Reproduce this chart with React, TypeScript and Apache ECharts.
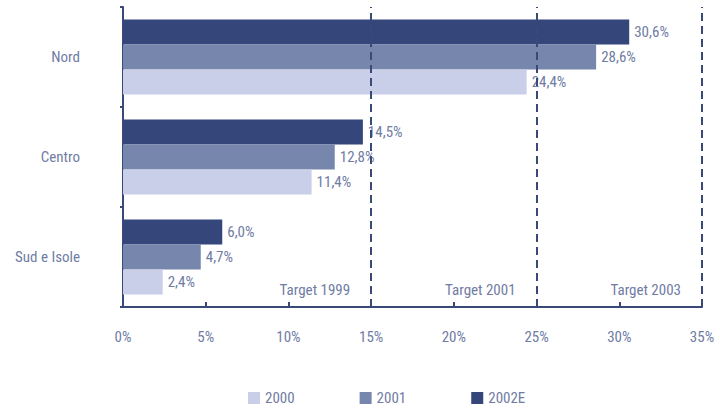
import React, { useEffect, useRef } from "react";
import * as echarts from "echarts";

const categories = ["Sud e Isole", "Centro", "Nord"];
const seriesNames = ["2000", "2001", "2002E"];
const values2000 = [2.4, 11.4, 24.4];
const values2001 = [4.7, 12.8, 28.6];
const values2002E = [6.0, 14.5, 30.6];
const targetValues = [15, 25, 35];
const targetLabels = ["Target 1999", "Target 2001", "Target 2003"];

const colors = ["#c9cfe8", "#7786ad", "#34467a"];
const textColor = "#707ca3";
const axisColor = "#3a4978";
const FONT = "'Liberation Sans Narrow', 'Roboto Condensed', 'Noto Sans', sans-serif";

const fmt = (v: number) => v.toFixed(1).replace(".", ",") + "%";

export default function App() {
  const ref = useRef<HTMLDivElement>(null);
  useEffect(() => {
    if (!ref.current) return;
    const chart = echarts.init(ref.current, null, { renderer: "svg" });
    const data = [values2000, values2001, values2002E];
    const order = [2, 1, 0];
    const series: any[] = order.map((i) => ({
      name: seriesNames[i],
      type: "bar",
      data: data[i],
      barWidth: 25,
      barGap: "0%",
      itemStyle: { color: colors[i] },
      label: {
        show: true,
        position: "right",
        distance: 5,
        formatter: (p: any) => fmt(p.value),
        color: textColor,
        fontSize: 15,
        fontFamily: FONT,
      },
      z: 2,
    }));
    series.push({
      type: "line",
      data: [],
      markLine: {
        silent: true,
        symbol: "none",
        label: { show: false },
        lineStyle: { color: axisColor, type: [8, 5], width: 2 },
        data: targetValues.map((v) => ({ xAxis: v })),
      },
      z: 3,
    });
    chart.setOption({
      animation: false,
      backgroundColor: "#ffffff",
      grid: { left: 123, right: 18, top: 7, bottom: 105 },
      xAxis: {
        type: "value",
        min: 0,
        max: 35,
        interval: 5,
        axisLine: { show: true, lineStyle: { color: axisColor, width: 2 } },
        axisTick: { show: true, inside: true, length: 5, lineStyle: { color: axisColor, width: 2 } },
        splitLine: { show: false },
        axisLabel: {
          margin: 22,
          color: textColor,
          fontSize: 15,
          fontFamily: FONT,
          formatter: (v: number) => v + "%",
        },
      },
      yAxis: {
        type: "category",
        data: categories,
        axisLine: { show: true, lineStyle: { color: axisColor, width: 2 } },
        axisTick: { show: true, length: 3, lineStyle: { color: axisColor, width: 2 } },
        axisLabel: { margin: 43, color: textColor, fontSize: 15, fontFamily: FONT },
      },
      legend: {
        data: seriesNames,
        left: 248,
        top: 390,
        padding: 0,
        itemWidth: 12,
        itemHeight: 12,
        itemGap: 65,
        icon: "rect",
        textStyle: { color: textColor, fontSize: 15, lineHeight: 16, fontFamily: FONT },
      },
      series,
    });
    const bottomY = chart.getHeight() - 105;
    const graphics = targetValues.map((v, i) => {
      const [px] = chart.convertToPixel({ gridIndex: 0 }, [v, 0]) as number[];
      return {
        type: "text",
        x: px - 21,
        y: bottomY - 17,
        style: {
          text: targetLabels[i],
          align: "right",
          verticalAlign: "middle",
          fill: textColor,
          fontSize: 15,
          fontFamily: FONT,
        },
      };
    });
    chart.setOption({ graphic: graphics });
    return () => chart.dispose();
  }, []);
  return <div ref={ref} style={{ width: 720, height: 412, position: "absolute", left: 0, top: 0 }} />;
}
